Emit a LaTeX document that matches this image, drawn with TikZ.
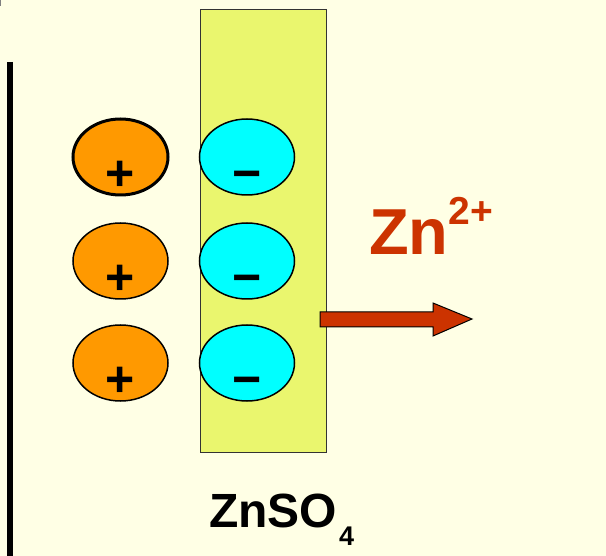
\documentclass[tikz,border=0pt]{standalone}
\usepackage{fontspec}
\setmainfont{Liberation Sans}
\usetikzlibrary{shapes.geometric}
\definecolor{bg}{RGB}{255,255,229}
\definecolor{soln}{RGB}{234,246,110}
\definecolor{ionorange}{RGB}{255,153,0}
\definecolor{ioncyan}{RGB}{0,255,255}
\definecolor{znred}{RGB}{204,51,0}
\tikzset{
  posion/.style={ellipse, draw=black, line width=1.5pt, fill=ionorange, minimum width=95pt, minimum height=76pt, inner sep=0pt},
  negion/.style={ellipse, draw=black, line width=1.5pt, fill=ioncyan, minimum width=95pt, minimum height=76pt, inner sep=0pt},
  signtext/.style={inner sep=0pt, font=\fontsize{50}{50}\selectfont\bfseries},
  lbl/.style={inner sep=0pt, anchor=base west, font=\bfseries}
}
\begin{document}
\begin{tikzpicture}[x=1pt,y=-1pt]
\fill[bg] (0,0) rectangle (606,556);
\useasboundingbox (0,0) rectangle (606,556);
% electrode
\draw[line width=6pt] (10,62) -- (10,556);
\draw[gray, line width=1pt] (0.5,0) -- (0.5,6);
% solution
\node[draw=black!80, line width=1pt, fill=soln, minimum width=126pt, minimum height=443pt, inner sep=0pt] (sol) at (263,231.5) {};
% ions
\node[posion, line width=3pt] (p1) at (120.5,157) {};
\node[posion] (p2) at (120.5,261) {};
\node[posion] (p3) at (120.5,363) {};
\node[negion] (n1) at (247,157) {};
\node[negion] (n2) at (247,261) {};
\node[negion] (n3) at (247,363) {};
\foreach \i in {1,2,3}{
  \node[signtext] (ps\i) at ([yshift=-19pt]p\i.center) {+};
  \node[signtext] (ns\i) at ([yshift=-24pt]n\i.center) {−};
}
% arrow
\fill[znred, draw=black, line width=1pt]
  (320,312) -- (433,312) -- (433,303) -- (472,319) -- (433,336) -- (433,327) -- (320,327) -- cycle;
% labels
\node[lbl, text=znred, font=\fontsize{65}{65}\selectfont\bfseries] (zn) at (369,255) {Zn\raisebox{30pt}{\fontsize{39}{39}\selectfont 2+}};
\node[lbl, font=\fontsize{48}{48}\selectfont\bfseries] (znso) at (209,527) {ZnSO\kern2pt\raisebox{-18pt}{\fontsize{27}{27}\selectfont 4}};
\end{tikzpicture}
\end{document}
